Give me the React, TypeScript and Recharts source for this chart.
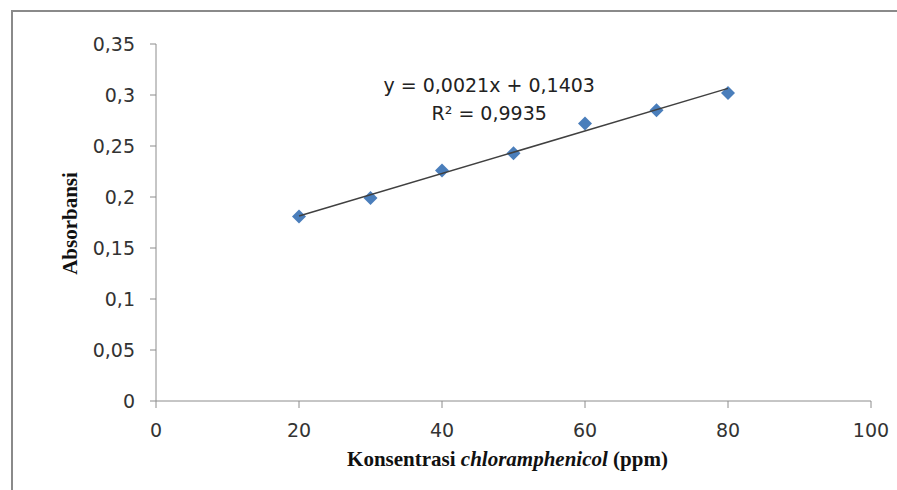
import { CartesianGrid, Customized, Label, Scatter, ScatterChart, XAxis, YAxis } from 'recharts'

const concentrations = [20, 30, 40, 50, 60, 70, 80]
const absorbances = [0.181, 0.199, 0.226, 0.243, 0.272, 0.285, 0.302]

// endpoints of the linear trendline fitted to the points above
const trendX = [20, 80]
const trendY = [0.1813, 0.3065]

const xTicks = [0, 20, 40, 60, 80, 100]
const yTicks = [0, 0.05, 0.1, 0.15, 0.2, 0.25, 0.3, 0.35]

const equationText = 'y = 0,0021x + 0,1403'
const r2Text = 'R² = 0,9935'

const points = concentrations.map((x, i) => ({ x, y: absorbances[i] }))
const trend = trendX.map((x, i) => ({ x, y: trendY[i] }))

const TICK_FONT = '"DejaVu Sans", sans-serif'
const TITLE_FONT = '"Liberation Serif", "Times New Roman", serif'
const AXIS_COLOR = '#8c8c8c'

function Diamond(props: any) {
  const { cx, cy } = props
  const r = 7
  return (
    <path
      d={`M${cx},${cy - r} L${cx + r},${cy} L${cx},${cy + r} L${cx - r},${cy} Z`}
      fill="#4a7ebb"
    />
  )
}

function Equation(props: any) {
  const offset = props.offset || { left: 156, width: 715, top: 44 }
  const cx = offset.left + offset.width * 0.466
  return (
    <g fontFamily={TICK_FONT} fontSize={19} fill="#222">
      <text x={cx} y={offset.top + 48} textAnchor="middle">{equationText}</text>
      <text x={cx} y={offset.top + 76} textAnchor="middle">{r2Text}</text>
    </g>
  )
}

const fmt = (v: number) => String(v).replace('.', ',')

export default function App() {
  return (
    <div
      style={{
        position: 'absolute',
        left: 0,
        top: 0,
        width: 897,
        height: 490,
        background: '#fff',
      }}
    >
      <div
        style={{
          position: 'absolute',
          left: 11,
          top: 10,
          right: 0,
          bottom: 0,
          borderTop: '2px solid #8a8a8a',
          borderLeft: '2px solid #8a8a8a',
        }}
      />
      <ScatterChart
        width={897}
        height={490}
        margin={{ top: 44, right: 26, bottom: 29, left: 76 }}
        style={{ position: 'absolute', left: 0, top: 0 }}
      >
        <CartesianGrid stroke="none" />
        <XAxis
          type="number"
          dataKey="x"
          domain={[0, 100]}
          ticks={xTicks}
          height={60}
          stroke={AXIS_COLOR}
          tickSize={7}
          tickMargin={16}
          tick={{ fontFamily: TICK_FONT, fontSize: 19, fill: '#333' }}
        >
          <Label
            content={(p: any) => {
              const vb = p.viewBox || { x: 156, y: 401, width: 715 }
              return (
                <text
                  x={vb.x + vb.width / 2 - 6}
                  y={vb.y + 65}
                  textAnchor="middle"
                  fontFamily={TITLE_FONT}
                  fontWeight="bold"
                  fontSize={21}
                  fill="#111"
                >
                  <tspan>Konsentrasi </tspan>
                  <tspan fontStyle="italic">chloramphenicol</tspan>
                  <tspan> (ppm)</tspan>
                </text>
              )
            }}
          />
        </XAxis>
        <YAxis
          type="number"
          dataKey="y"
          domain={[0, 0.35]}
          ticks={yTicks}
          width={80}
          stroke={AXIS_COLOR}
          tickSize={6}
          tickMargin={15}
          tickFormatter={fmt}
          tick={{ fontFamily: TICK_FONT, fontSize: 19, fill: '#333' }}
        >
          <Label
            content={(p: any) => {
              const vb = p.viewBox || { x: 76, y: 44, height: 357 }
              const cy = vb.y + vb.height / 2 + 1
              const x = 77
              return (
                <text
                  x={x}
                  y={cy}
                  transform={`rotate(-90, ${x}, ${cy})`}
                  textAnchor="middle"
                  fontFamily={TITLE_FONT}
                  fontWeight="bold"
                  fontSize={21}
                  fill="#111"
                >
                  Absorbansi
                </text>
              )
            }}
          />
        </YAxis>
        <Scatter data={points} shape={<Diamond />} isAnimationActive={false} />
        <Scatter
          data={trend}
          line={{ stroke: '#404040', strokeWidth: 1.5 }}
          shape={() => <g />}
          isAnimationActive={false}
        />
        <Customized component={Equation} />
      </ScatterChart>
    </div>
  )
}
